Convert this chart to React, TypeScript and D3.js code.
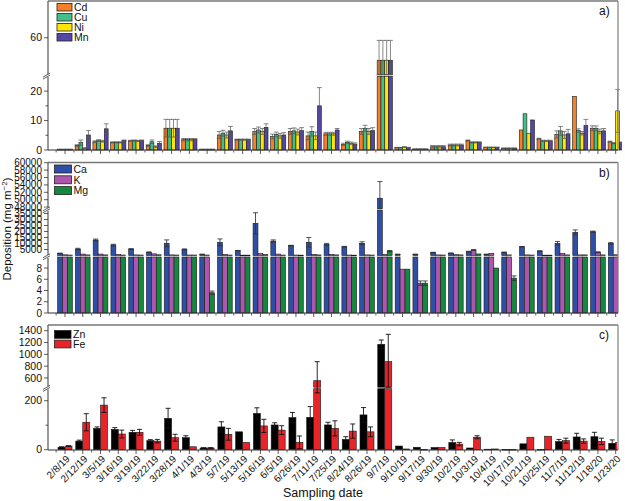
import React from "react";
import * as d3 from "d3";

const dates = ["2/8/19","2/12/19","3/5/19","3/16/19","3/19/19","3/22/19","3/28/19","4/1/19","4/3/19","5/7/19","5/13/19","5/16/19","6/5/19","6/26/19","7/11/19","7/25/19","8/24/19","8/26/19","9/7/19","9/10/19","9/17/19","9/30/19","10/2/19","10/3/19","10/4/19","10/17/19","10/21/19","10/25/19","11/7/19","11/12/19","1/18/20","1/23/20"];

// Panel a
const cd = [0.2,1.5,2.8,2.6,3.1,1.5,7.4,3.5,0.2,5.1,3.5,6.3,4.6,6.3,4.8,5.5,1.9,6.3,52.3,0.8,0.3,1.1,1.7,3.2,0.9,0.6,6.8,3.8,5.3,18.2,7.4,2.8];
const cu = [0.2,2.5,3.2,2.6,3.2,2.8,7.4,3.5,0.2,5.7,3.5,6.8,5.3,6.5,6.3,5.5,2.6,7.4,52.3,0.8,0.3,1.1,1.7,2.6,0.9,0.6,12.3,3.1,6.5,6.6,7.4,2.3];
const ni = [0.2,0.6,3.0,2.6,3.1,1.1,7.4,3.5,0.2,5.1,3.5,6.3,4.8,6.1,4.8,5.5,2.3,6.3,52.3,1.0,0.3,1.1,1.7,2.6,0.9,0.6,5.7,3.1,5.1,5.7,6.3,13.3];
const mn = [0.2,5.1,7.2,3.2,3.2,2.3,7.4,3.5,0.2,6.5,3.5,7.7,5.1,6.6,15.0,6.8,2.0,6.6,52.3,0.8,0.3,1.1,1.7,2.6,0.9,0.6,10.2,3.1,5.5,8.3,6.5,2.5];
const cdErr = [0.1,0.3,0.3,0.2,0.2,0.3,3.0,0.4,0.1,1.2,0.2,1.0,0.8,1.0,1.3,0.5,0.4,1.0,6.8,0.1,0.1,0.4,0.3,0.2,0.1,0.1,0,0.2,1.2,0,0.8,0.2];
const cuErr = [0.1,0.9,0.3,0.2,0.2,0.6,3.0,0.4,0.1,1.0,0.2,1.0,0.8,1.0,1.6,0.5,0.4,1.0,6.8,0.1,0.1,0.4,0.3,0.2,0.1,0.1,0,0.2,1.5,0.6,0.8,0.2];
const niErr = [0.1,0.2,0.3,0.2,0.2,0.3,3.0,0.4,0.1,1.0,0.2,1.0,0.8,1.0,1.3,0.5,0.4,1.0,6.8,0.1,0.1,0.4,0.3,0.2,0.1,0.1,0,0.2,1.2,0.6,0.8,7.3];
const mnErr = [0.1,1.5,1.7,0.2,0.2,0.6,3.0,0.4,0.1,1.5,0.2,1.2,0.8,1.0,6.2,0.5,0.4,1.0,6.8,0.1,0.1,0.4,0.3,0.2,0.1,0.1,0,0.2,1.5,2.1,0.8,0.2];

// Panel b
const ca = [1800,5400,12900,8750,5400,2700,10200,5100,1000,11000,4000,26800,12000,8200,11000,9300,7300,10200,50400,1000,1000,2400,1900,3200,1000,2600,7300,3700,10200,19300,19800,10200];
const caErr = [200,600,800,600,300,300,2800,400,100,2800,200,8800,1000,300,4000,800,300,1200,4500,100,100,300,200,300,100,300,200,200,1500,2000,500,500];
const k = [600,1200,1200,900,500,1400,500,400,400,900,300,1500,1200,400,1000,1000,400,500,800,7.8,5.3,500,700,4600,1800,500,500,300,1800,500,2700,600];
const kErr = [0,0,0,0,0,0,0,0,0,0,0,0,0,0,0,0,0,0,0,0,0.4,0,0,300,0,0,0,0,0,0,400,0];
const mg = [400,500,500,400,400,600,400,400,3.6,400,300,800,400,300,500,500,300,400,3700,7.8,5.3,400,500,1300,8.0,6.2,400,300,500,500,500,400];
const mgErr = [0,0,0,0,0,0,0,0,0.3,0,0,0,0,0,0,0,0,0,400,0,0.4,0,0,0,0,0.4,0,0,0,0,0,0];

// Panel c
const zn = [10,35,87,83,71,37,128,49,7,93,73,148,101,131,132,101,42,142,1170,15,10,9,29,7,2,1,24,1,33,52,53,26];
const znErr = [2,4,6,7,8,4,41,8,1,21,0,23,9,21,44,11,11,30,73,0,0,0,11,0,0,0,0,0,9,15,18,14];
const fe = [15,112,182,64,71,35,49,12,7,63,30,97,80,30,554,87,76,73,876,3,1,9,23,51,3,1,51,55,37,35,34,30];
const feErr = [1,35,30,16,12,7,14,0,1,24,0,27,18,26,322,31,29,20,463,0,0,0,7,6,0,0,0,0,10,9,13,0];

const ticksA = [[0, 10, 20], [60]];
const minorA = [[5, 15], []];
const ticksB = [[0, 2, 4, 6, 8], [5000, 10000, 15000, 20000, 25000, 30000, 35000], [48000, 50000, 52000, 54000, 56000, 58000, 60000]];
const ticksC = [[0, 200], [600, 800, 1000, 1200, 1400]];
const minorC = [[100], []];

type Seg = { d0: number; d1: number; r0: number; r1: number };

const FONT = "'Liberation Sans', Arial, sans-serif";
const X0 = 48, X1 = 618;

function makeY(segs: Seg[]) {
  const scales = segs.map(s => d3.scaleLinear().domain([s.d0, s.d1]).range([s.r0, s.r1]));
  const y = (v: number) => {
    for (let i = 0; i < segs.length; i++) {
      const s = segs[i];
      if (v <= s.d1 || i === segs.length - 1) return scales[i](Math.max(v, s.d0));
    }
    return 0;
  };
  const pieces = (v: number) => {
    const out: { y0: number; y1: number }[] = [];
    for (let i = 0; i < segs.length; i++) {
      const s = segs[i];
      if (i > 0 && v <= segs[i - 1].d1) break;
      const top = Math.min(v, s.d1);
      if (top <= s.d0) continue;
      out.push({ y0: scales[i](s.d0), y1: scales[i](top) });
    }
    return out;
  };
  return { y, pieces, scales };
}

const x = d3.scalePoint<string>().domain(dates).range([65, 615.7]);

type Series = { vals: number[]; errs: number[]; color: string };

function Panel(props: {
  id: string; top: number; bottom: number; segs: Seg[]; series: Series[]; barW: number;
  ticks: number[][]; minor: number[][]; errColor: string; errOpacity: number; label: string; tickFont: number;
  legend: { name: string; color: string }[]; legendTop: number; legendStep: number; legendX: number; legendW: number; legendH: number;
  clipRight: number;
}) {
  const { y, pieces, scales } = makeY(props.segs);
  const n = props.series.length;
  const bars: React.ReactNode[] = [];
  const errs: React.ReactNode[] = [];
  dates.forEach((d, i) => {
    const c = x(d)!;
    props.series.forEach((s, j) => {
      const x0 = c - (n * props.barW) / 2 + j * props.barW;
      const v = s.vals[i];
      pieces(v).forEach((p, pi) => {
        bars.push(
          <rect key={`b${i}-${j}-${pi}`} x={x0} y={p.y1} width={props.barW} height={Math.max(0.6, p.y0 - p.y1)}
            fill={s.color} stroke="#1a1a1a" strokeWidth={0.6} />
        );
      });
      const e = s.errs[i];
      if (e > 0) {
        const cx = x0 + props.barW / 2;
        const ya = y(v + e), yb = y(Math.max(0, v - e));
        const cw = Math.min(props.barW, 4) / 2 + 0.5;
        errs.push(
          <g key={`e${i}-${j}`} stroke={props.errColor} strokeOpacity={props.errOpacity} strokeWidth={1}>
            <line x1={cx} x2={cx} y1={ya} y2={yb} />
            <line x1={cx - cw} x2={cx + cw} y1={ya} y2={ya} />
            <line x1={cx - cw} x2={cx + cw} y1={yb} y2={yb} />
          </g>
        );
      }
    });
  });
  const step = x.step();
  return (
    <g fontFamily={FONT}>
      <defs>
        <clipPath id={`clip-${props.id}`}>
          <rect x={X0} y={props.top} width={props.clipRight - X0} height={props.bottom - props.top + 1} />
        </clipPath>
      </defs>
      <g clipPath={`url(#clip-${props.id})`}>
        {bars}
        {errs}
      </g>
      <line x1={X0} x2={X1} y1={props.top} y2={props.top} stroke="#777" strokeWidth={1.5} />
      <line x1={X1} x2={X1} y1={props.top} y2={props.bottom} stroke="#888" strokeWidth={1.3} />
      <line x1={X0} x2={X0} y1={props.top} y2={props.bottom} stroke="#555" strokeWidth={1.2} />
      <line x1={X0} x2={X1} y1={props.bottom} y2={props.bottom} stroke="#333" strokeWidth={1.2} />
      {dates.map((d, i) => {
        const c = x(d)!;
        return (
          <g key={`xt${i}`} stroke="#333" strokeWidth={0.8}>
            <line x1={c} x2={c} y1={props.bottom} y2={props.bottom + 4} />
            <line x1={c - step / 2} x2={c - step / 2} y1={props.bottom} y2={props.bottom + 2.5} />
          </g>
        );
      })}
      {props.ticks.map((ts, si) =>
        ts.map(t => {
          const yy = scales[si](t);
          return (
            <g key={`yt${si}-${t}`}>
              <line x1={X0 - 4} x2={X0} y1={yy} y2={yy} stroke="#333" strokeWidth={0.8} />
              <text x={X0 - 6} y={yy} dy="0.35em" textAnchor="end" fontSize={props.tickFont} fill="#111">{t}</text>
            </g>
          );
        })
      )}
      {props.minor.map((ts, si) =>
        ts.map(t => {
          const yy = scales[si](t);
          return <line key={`ym${si}-${t}`} x1={X0 - 2.5} x2={X0} y1={yy} y2={yy} stroke="#333" strokeWidth={0.8} />;
        })
      )}
      {props.segs.slice(1).map((s, i) => {
        const yb = (props.segs[i].r1 + s.r0) / 2;
        return (
          <g key={`brk${i}`}>
            <rect x={X0 - 3} y={yb - 1.5} width={6} height={3} fill="#fff" />
            <line x1={X0 - 5} x2={X0 + 2} y1={yb + 1.5} y2={yb - 2.5} stroke="#333" strokeWidth={0.8} />
            <line x1={X0 - 5} x2={X0 + 2} y1={yb + 3.5} y2={yb - 0.5} stroke="#333" strokeWidth={0.8} />
          </g>
        );
      })}
      {props.legend.map((l, i) => {
        const ty = props.legendTop + i * props.legendStep;
        return (
          <g key={`lg${i}`}>
            <rect x={props.legendX} y={ty} width={props.legendW} height={props.legendH} fill={l.color} stroke="#222" strokeWidth={0.8} />
            <text x={props.legendX + props.legendW + 2} y={ty + props.legendH / 2} dy="0.36em" fontSize={10.5} fill="#111">{l.name}</text>
          </g>
        );
      })}
      <text x={599} y={props.top + 14} fontSize={12} fill="#111">{props.label}</text>
    </g>
  );
}

export default function App() {
  const segA: Seg[] = [
    { d0: 0, d1: 25, r0: 150, r1: 76.4 },
    { d0: 47.3, d1: 72.6, r0: 74.8, r1: 1 },
  ];
  const segB: Seg[] = [
    { d0: 0, d1: 9.96, r0: 313, r1: 257 },
    { d0: 0, d1: 37900, r0: 255.5, r1: 210 },
    { d0: 47620, d1: 60000, r0: 208.5, r1: 162.7 },
  ];
  const segC: Seg[] = [
    { d0: 0, d1: 249, r0: 449.7, r1: 388.7 },
    { d0: 444, d1: 1500, r0: 387.2, r1: 324.8 },
  ];
  return (
    <svg width={625} height={501} style={{ position: "absolute", left: 0, top: 0, background: "#fff" }}>
      <rect x={0} y={0} width={625} height={501} fill="#fff" />
      <Panel id="a" top={1} bottom={150} segs={segA} barW={3.8} tickFont={10.5}
        series={[
          { vals: cd, errs: cdErr, color: "#F58025" },
          { vals: cu, errs: cuErr, color: "#45BF8A" },
          { vals: ni, errs: niErr, color: "#FFE600" },
          { vals: mn, errs: mnErr, color: "#5447A3" },
        ]}
        ticks={ticksA} minor={minorA} errColor="#555" errOpacity={0.7} label="a)"
        legend={[{ name: "Cd", color: "#F58025" }, { name: "Cu", color: "#45BF8A" }, { name: "Ni", color: "#FFE600" }, { name: "Mn", color: "#5447A3" }]}
        legendTop={3.5} legendStep={10} legendX={57} legendW={15} legendH={7.5} clipRight={622} />
      <Panel id="b" top={162.5} bottom={313} segs={segB} barW={4.9} tickFont={10}
        series={[
          { vals: ca, errs: caErr, color: "#2E4FA6" },
          { vals: k, errs: kErr, color: "#AE55AE" },
          { vals: mg, errs: mgErr, color: "#14893E" },
        ]}
        ticks={ticksB} minor={[[], [], []]} errColor="#333" errOpacity={0.85} label="b)"
        legend={[{ name: "Ca", color: "#2E4FA6" }, { name: "K", color: "#AE55AE" }, { name: "Mg", color: "#14893E" }]}
        legendTop={165} legendStep={10.8} legendX={54.5} legendW={17} legendH={8} clipRight={618} />
      <Panel id="c" top={325} bottom={450} segs={segC} barW={7} tickFont={10.5}
        series={[
          { vals: zn, errs: znErr, color: "#000000" },
          { vals: fe, errs: feErr, color: "#E8242B" },
        ]}
        ticks={ticksC} minor={minorC} errColor="#111" errOpacity={0.9} label="c)"
        legend={[{ name: "Zn", color: "#000000" }, { name: "Fe", color: "#E8242B" }]}
        legendTop={330.5} legendStep={9.6} legendX={54.5} legendW={16.5} legendH={7.8} clipRight={617} />
      <g fontFamily={FONT} fontSize={10} fill="#111">
        {dates.map((d, i) => (
          <text key={`xl${i}`} textAnchor="end" transform={`translate(${x(d)! + 3},${457}) rotate(-45)`} dy="0.35em">{d}</text>
        ))}
      </g>
      <text x={323} y={497} textAnchor="middle" fontFamily={FONT} fontSize={12.5} fill="#111">Sampling date</text>
      <text transform="translate(11,229) rotate(-90)" textAnchor="middle" fontFamily={FONT} fontSize={11.5} fill="#111">
        Deposition (mg m<tspan dy="-4" fontSize={8}>−2</tspan><tspan dy="4">)</tspan>
      </text>
    </svg>
  );
}
